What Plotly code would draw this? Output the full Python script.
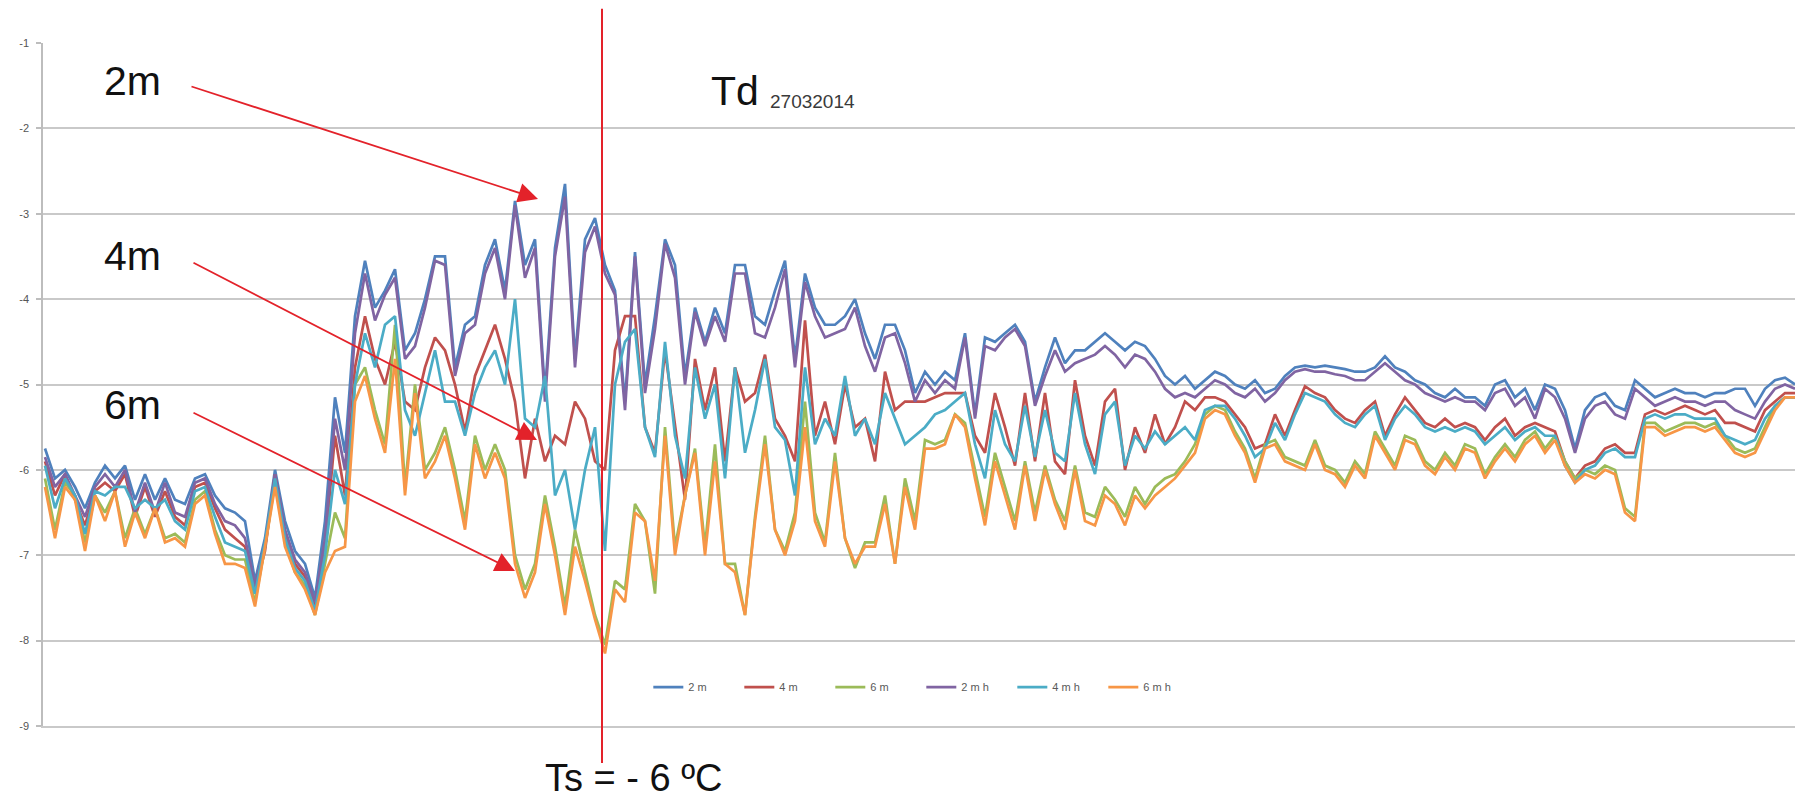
import plotly.graph_objects as go

# sample index (time steps)
samples = list(range(176))

t2m = [
    -5.75,-6.10,-6.00,-6.20,-6.45,-6.15,-5.95,-6.10,-5.95,-6.35,-6.05,-6.35,-6.10,-6.35,-6.40,-6.10,-6.05,-6.30,-6.45,-6.50,-6.60,-7.30,-6.80,-6.00,-6.60,-6.95,-7.10,-7.50,-6.60,-5.15,
    -5.80,-4.20,-3.55,-4.10,-3.90,-3.65,-4.60,-4.40,-4.00,-3.50,-3.50,-4.80,-4.30,-4.20,-3.60,-3.30,-3.90,-2.85,-3.60,-3.30,-5.10,-3.40,-2.65,-4.70,-3.30,-3.05,-3.60,-3.90,-5.20,
    -3.45,-5.00,-4.20,-3.30,-3.60,-4.90,-4.10,-4.50,-4.10,-4.40,-3.60,-3.60,-4.20,-4.30,-3.90,-3.55,-4.70,-3.70,-4.10,-4.30,-4.30,-4.20,-4.00,-4.40,-4.70,-4.30,-4.30,-4.60,-5.10,
    -4.85,-5.00,-4.85,-4.95,-4.40,-5.35,-4.45,-4.50,-4.40,-4.30,-4.50,-5.20,-4.80,-4.45,-4.75,-4.60,-4.60,-4.50,-4.40,-4.50,-4.60,-4.50,-4.55,-4.70,-4.90,-5.00,-4.90,-5.05,-4.95,
    -4.85,-4.90,-5.00,-5.05,-4.95,-5.10,-5.05,-4.90,-4.80,-4.78,-4.80,-4.78,-4.80,-4.82,-4.85,-4.85,-4.80,-4.67,-4.80,-4.85,-4.95,-5.00,-5.10,-5.15,-5.05,-5.15,-5.15,-5.25,-5.00,
    -4.95,-5.15,-5.05,-5.30,-5.00,-5.05,-5.30,-5.75,-5.30,-5.15,-5.10,-5.25,-5.30,-4.95,-5.05,-5.15,-5.10,-5.05,-5.10,-5.10,-5.15,-5.10,-5.10,-5.05,-5.05,-5.25,-5.05,-4.95,-4.92,-5.00,
]

t4m = [
    -5.90,-6.30,-6.05,-6.35,-6.65,-6.25,-6.15,-6.25,-6.05,-6.55,-6.20,-6.55,-6.25,-6.55,-6.65,-6.20,-6.15,-6.45,-6.70,-6.80,-6.90,-7.40,-6.95,-6.05,-6.75,-7.10,-7.25,-7.60,-6.90,-5.60,
    -6.30,-4.80,-4.20,-4.70,-5.00,-4.50,-5.20,-5.30,-4.80,-4.45,-4.60,-5.00,-5.55,-4.90,-4.60,-4.30,-4.70,-5.20,-6.10,-5.40,-5.90,-5.60,-5.70,-5.20,-5.40,-5.90,-6.00,-4.60,-4.20,
    -4.20,-5.50,-5.80,-4.60,-5.50,-6.35,-4.70,-5.30,-4.80,-5.90,-4.80,-5.20,-5.10,-4.65,-5.40,-5.60,-5.90,-4.25,-5.60,-5.20,-5.70,-5.00,-5.50,-5.40,-5.90,-4.85,-5.30,-5.20,-5.20,
    -5.20,-5.15,-5.10,-5.10,-5.10,-5.60,-5.80,-5.10,-5.50,-5.95,-5.10,-5.90,-5.10,-5.90,-6.05,-4.95,-5.60,-5.95,-5.20,-5.05,-6.00,-5.50,-5.80,-5.35,-5.70,-5.50,-5.20,-5.30,-5.15,
    -5.15,-5.20,-5.35,-5.50,-5.75,-5.70,-5.35,-5.60,-5.30,-5.02,-5.10,-5.15,-5.30,-5.40,-5.45,-5.30,-5.20,-5.60,-5.35,-5.15,-5.30,-5.45,-5.50,-5.40,-5.50,-5.45,-5.50,-5.65,-5.50,
    -5.40,-5.60,-5.50,-5.45,-5.50,-5.55,-5.90,-6.10,-5.95,-5.90,-5.75,-5.70,-5.80,-5.80,-5.35,-5.30,-5.35,-5.30,-5.25,-5.30,-5.35,-5.30,-5.45,-5.45,-5.50,-5.55,-5.30,-5.20,-5.10,-5.10,
]

t6m = [
    -6.10,-6.70,-6.15,-6.30,-6.85,-6.30,-6.50,-6.25,-6.80,-6.45,-6.75,-6.45,-6.80,-6.75,-6.85,-6.35,-6.25,-6.70,-7.00,-7.05,-7.05,-7.55,-6.90,-6.15,-6.85,-7.20,-7.35,-7.70,-7.10,-6.50,
    -6.80,-5.00,-4.80,-5.30,-5.70,-4.30,-6.20,-5.00,-6.00,-5.80,-5.50,-6.00,-6.60,-5.60,-6.00,-5.70,-6.00,-7.00,-7.40,-7.10,-6.30,-6.90,-7.60,-6.70,-7.20,-7.70,-8.05,-7.30,-7.40,
    -6.40,-6.60,-7.45,-5.50,-6.90,-6.30,-5.75,-6.90,-5.70,-7.10,-7.10,-7.70,-6.55,-5.60,-6.70,-6.95,-6.50,-5.20,-6.50,-6.85,-5.80,-6.80,-7.15,-6.85,-6.85,-6.30,-7.10,-6.10,-6.60,
    -5.65,-5.70,-5.65,-5.35,-5.45,-6.00,-6.55,-5.80,-6.20,-6.60,-5.90,-6.50,-5.95,-6.35,-6.60,-5.95,-6.50,-6.55,-6.20,-6.35,-6.55,-6.20,-6.40,-6.20,-6.10,-6.05,-5.90,-5.70,-5.35,
    -5.25,-5.30,-5.55,-5.75,-6.10,-5.70,-5.65,-5.85,-5.90,-5.95,-5.65,-5.95,-6.00,-6.15,-5.90,-6.05,-5.55,-5.75,-5.95,-5.60,-5.65,-5.90,-6.00,-5.80,-5.95,-5.70,-5.75,-6.05,-5.85,
    -5.70,-5.85,-5.65,-5.55,-5.75,-5.60,-5.90,-6.10,-6.00,-6.05,-5.95,-6.00,-6.45,-6.55,-5.45,-5.45,-5.55,-5.50,-5.45,-5.45,-5.50,-5.45,-5.60,-5.75,-5.80,-5.75,-5.50,-5.25,-5.15,-5.15,
]

t2mh = [
    -5.85,-6.20,-6.05,-6.30,-6.55,-6.20,-6.05,-6.20,-6.00,-6.50,-6.15,-6.50,-6.15,-6.50,-6.55,-6.15,-6.10,-6.40,-6.60,-6.65,-6.80,-7.35,-6.90,-6.05,-6.70,-7.05,-7.20,-7.55,-6.80,-5.40,
    -6.00,-4.40,-3.70,-4.25,-3.95,-3.75,-4.70,-4.55,-4.10,-3.55,-3.60,-4.90,-4.40,-4.30,-3.70,-3.40,-4.00,-2.90,-3.75,-3.40,-5.20,-3.50,-2.80,-4.80,-3.45,-3.15,-3.70,-3.95,-5.30,
    -3.50,-5.10,-4.35,-3.35,-3.75,-5.00,-4.15,-4.55,-4.20,-4.50,-3.70,-3.70,-4.40,-4.45,-4.10,-3.65,-4.80,-3.80,-4.20,-4.45,-4.40,-4.35,-4.10,-4.55,-4.85,-4.45,-4.40,-4.75,-5.20,
    -4.95,-5.10,-4.95,-5.05,-4.45,-5.40,-4.55,-4.60,-4.45,-4.35,-4.55,-5.25,-4.90,-4.60,-4.85,-4.75,-4.70,-4.65,-4.55,-4.65,-4.80,-4.65,-4.70,-4.85,-5.05,-5.15,-5.10,-5.15,-5.05,
    -4.95,-5.00,-5.10,-5.15,-5.05,-5.20,-5.10,-4.95,-4.85,-4.82,-4.85,-4.85,-4.88,-4.90,-4.95,-4.95,-4.85,-4.75,-4.85,-4.95,-5.00,-5.10,-5.15,-5.20,-5.15,-5.20,-5.20,-5.30,-5.10,
    -5.05,-5.25,-5.15,-5.40,-5.05,-5.15,-5.40,-5.80,-5.40,-5.25,-5.20,-5.35,-5.40,-5.05,-5.15,-5.25,-5.20,-5.15,-5.20,-5.20,-5.25,-5.20,-5.20,-5.30,-5.35,-5.40,-5.20,-5.05,-5.00,-5.05,
]

t4mh = [
    -5.95,-6.45,-6.10,-6.30,-6.75,-6.25,-6.30,-6.20,-6.20,-6.45,-6.35,-6.45,-6.35,-6.60,-6.70,-6.25,-6.20,-6.55,-6.85,-6.90,-6.95,-7.45,-6.85,-6.10,-6.80,-7.15,-7.30,-7.65,-7.00,-6.00,
    -6.40,-5.00,-4.40,-4.80,-4.30,-4.20,-5.30,-5.60,-5.10,-4.60,-5.20,-5.20,-5.60,-5.10,-4.80,-4.60,-5.00,-4.00,-5.40,-5.50,-4.90,-6.30,-6.00,-6.70,-6.00,-5.50,-6.95,-5.00,-4.50,
    -4.35,-5.50,-5.85,-4.50,-5.60,-6.10,-4.80,-5.40,-5.00,-6.10,-4.80,-5.80,-5.30,-4.70,-5.50,-5.65,-6.30,-4.80,-5.70,-5.40,-5.60,-4.90,-5.60,-5.40,-5.70,-5.10,-5.40,-5.70,-5.60,
    -5.50,-5.35,-5.30,-5.20,-5.10,-5.70,-6.10,-5.30,-5.70,-5.90,-5.25,-5.85,-5.30,-5.80,-5.90,-5.10,-5.70,-6.05,-5.35,-5.20,-5.95,-5.60,-5.75,-5.55,-5.70,-5.60,-5.50,-5.65,-5.30,
    -5.25,-5.25,-5.40,-5.60,-5.85,-5.75,-5.45,-5.65,-5.35,-5.10,-5.15,-5.20,-5.35,-5.45,-5.50,-5.35,-5.25,-5.65,-5.40,-5.25,-5.35,-5.50,-5.55,-5.50,-5.55,-5.50,-5.55,-5.70,-5.60,
    -5.50,-5.65,-5.55,-5.50,-5.60,-5.60,-5.95,-6.15,-6.00,-5.95,-5.80,-5.75,-5.85,-5.85,-5.40,-5.35,-5.40,-5.35,-5.35,-5.40,-5.40,-5.40,-5.60,-5.65,-5.70,-5.65,-5.40,-5.25,-5.15,-5.15,
]

t6mh = [
    -6.20,-6.80,-6.20,-6.35,-6.95,-6.30,-6.60,-6.25,-6.90,-6.50,-6.80,-6.45,-6.85,-6.80,-6.90,-6.40,-6.30,-6.75,-7.10,-7.10,-7.15,-7.60,-6.90,-6.20,-6.90,-7.20,-7.40,-7.70,-7.20,-6.95,
    -6.90,-5.20,-4.90,-5.40,-5.80,-4.70,-6.30,-5.10,-6.10,-5.90,-5.60,-6.10,-6.70,-5.70,-6.10,-5.80,-6.10,-7.10,-7.50,-7.20,-6.40,-7.00,-7.70,-6.90,-7.30,-7.75,-8.15,-7.40,-7.55,
    -6.50,-6.60,-7.30,-5.60,-7.00,-6.30,-5.80,-7.00,-5.90,-7.10,-7.20,-7.70,-6.60,-5.70,-6.70,-7.00,-6.60,-5.50,-6.60,-6.90,-5.90,-6.80,-7.10,-6.90,-6.90,-6.40,-7.10,-6.20,-6.70,
    -5.75,-5.75,-5.70,-5.35,-5.50,-6.10,-6.65,-5.90,-6.30,-6.70,-5.95,-6.60,-6.00,-6.40,-6.70,-6.00,-6.60,-6.65,-6.30,-6.40,-6.65,-6.30,-6.45,-6.30,-6.20,-6.10,-5.95,-5.80,-5.40,
    -5.30,-5.35,-5.60,-5.80,-6.15,-5.75,-5.70,-5.90,-5.95,-6.00,-5.70,-6.00,-6.05,-6.20,-5.95,-6.10,-5.60,-5.80,-6.00,-5.65,-5.70,-5.95,-6.05,-5.85,-6.00,-5.75,-5.80,-6.10,-5.90,
    -5.75,-5.90,-5.70,-5.60,-5.80,-5.65,-5.95,-6.15,-6.05,-6.10,-6.00,-6.05,-6.50,-6.60,-5.50,-5.50,-5.60,-5.55,-5.50,-5.50,-5.55,-5.50,-5.65,-5.80,-5.85,-5.80,-5.55,-5.30,-5.15,-5.15,
]

series_names = ["2 m", "4 m", "6 m", "2 m h", "4 m h", "6 m h"]
series_values = [t2m, t4m, t6m, t2mh, t4mh, t6mh]
series_colors = ["#4F81BD", "#C0504D", "#9BBB59", "#8064A2", "#4BACC6", "#F79646"]

y_ticks = [-1, -2, -3, -4, -5, -6, -7, -8, -9]

fig = go.Figure()
for name, vals, col in zip(series_names, series_values, series_colors):
    fig.add_trace(go.Scatter(x=samples[:len(vals)], y=vals, name=name, mode="lines",
                             line=dict(color=col, width=2.7)))

RED = "#E3222A"
FONT = "Liberation Sans, Arial, sans-serif"
BIG = dict(family=FONT, size=41, color="#111111")

annotations = []
# depth labels
for txt, yv in [("2m", -1.45), ("4m", -3.495), ("6m", -5.24)]:
    annotations.append(dict(x=8.7, y=yv, xref="x", yref="y", text=txt, showarrow=False,
                            font=BIG, xanchor="center", yanchor="middle"))
# arrows (tail -> head)
for (tx, ty, hx, hy) in [(14.5, -1.504, 49.3, -2.827),
                         (14.7, -3.565, 49.2, -5.65),
                         (14.7, -5.322, 47.0, -7.184)]:
    annotations.append(dict(x=hx, y=hy, ax=tx, ay=ty, xref="x", yref="y", axref="x", ayref="y",
                            text="", showarrow=True, arrowhead=2, arrowsize=2.2, arrowwidth=1.8,
                            arrowcolor=RED))
# title-like label
annotations.append(dict(x=66.4, y=-1.56, xref="x", yref="y", text="Td", showarrow=False,
                        font=BIG, xanchor="left", yanchor="middle"))
annotations.append(dict(x=72.3, y=-1.68, xref="x", yref="y", text="27032014", showarrow=False,
                        font=dict(family=FONT, size=19, color="#3a3a3a"),
                        xanchor="left", yanchor="middle"))
annotations.append(dict(x=49.8, y=-0.043, xref="x", yref="paper", text="Ts = - 6 ºC", showarrow=False,
                        font=dict(family=FONT, size=38, color="#111111"),
                        xanchor="left", yanchor="top"))

fig.update_layout(
    width=1804, height=800,
    margin=dict(l=43, r=9, t=43, b=74, autoexpand=False),
    paper_bgcolor="white", plot_bgcolor="white",
    showlegend=True,
    legend=dict(orientation="h", x=0.3455, y=0.057, xanchor="left", yanchor="middle",
                font=dict(family=FONT, size=11, color="#595959"),
                bgcolor="rgba(0,0,0,0)", itemwidth=30, entrywidth=46, entrywidthmode="pixels",
                traceorder="normal"),
    annotations=annotations,
    shapes=[dict(type="line", xref="x", yref="paper", x0=55.7, x1=55.7, y0=-0.054, y1=1.05,
                 line=dict(color=RED, width=2))],
)
fig.update_xaxes(range=[-0.2, 175.0], showgrid=False, zeroline=False, showticklabels=False,
                 ticks="", showline=True, linecolor="#C9C9C9", linewidth=1.6, automargin=False)
fig.update_yaxes(range=[-9.0, -1.0], tickvals=y_ticks, ticktext=[str(v) for v in y_ticks],
                 showgrid=True, gridcolor="#C9C9C9", gridwidth=1.6, zeroline=False,
                 showline=True, linecolor="#BDBDBD", linewidth=1.6, automargin=False,
                 ticks="outside", ticklen=5, tickcolor="#BDBDBD", tickwidth=1.5,
                 ticklabelstandoff=5,
                 tickfont=dict(family=FONT, size=11, color="#555555"))

fig.write_html("out.html", config={"displayModeBar": False},
               post_script="document.body.style.margin='0px';document.body.style.overflow='hidden';")
